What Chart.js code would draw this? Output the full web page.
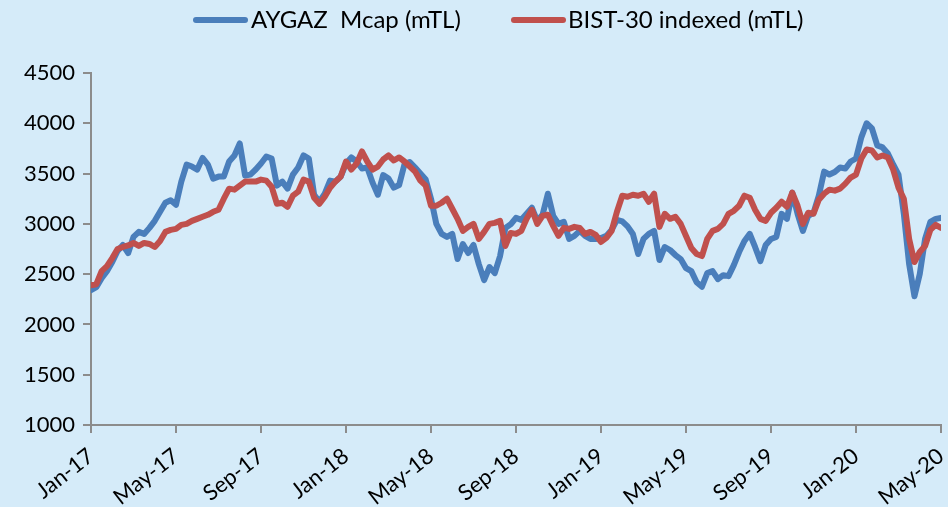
<!DOCTYPE html>
<html>
<head>
<meta charset="utf-8">
<script src="https://cdn.jsdelivr.net/npm/chart.js@4.4.1/dist/chart.umd.min.js"></script>
<style>
  html, body { margin: 0; padding: 0; background: #D5EBF9; }
  #wrap { position: relative; width: 948px; height: 507px; }
  .legend { position: absolute; top: 4px; left: 0; height: 30px; font-family: Lato, sans-serif; font-size: 24px; color: #000; white-space: pre; }
  .legend .item { position: absolute; top: 0; line-height: 30px; }
  .legend .swatch { position: absolute; top: 13px; width: 55px; height: 6px; border-radius: 3px; }
</style>
</head>
<body>
<div id="wrap">
  <canvas id="chart"></canvas>
  <div class="legend">
    <span class="swatch" style="left:193px; background:#4A7EBB"></span>
    <span class="item" style="left:251px">AYGAZ  Mcap (mTL)</span>
    <span class="swatch" style="left:511px; background:#C0504D"></span>
    <span class="item" style="left:568px">BIST-30 indexed (mTL)</span>
  </div>
</div>
<script>
// tick labels, one every 4 months (16 weeks)
const monthLabels = ['Jan-17', 'May-17', 'Sep-17', 'Jan-18', 'May-18', 'Sep-18',
                     'Jan-19', 'May-19', 'Sep-19', 'Jan-20', 'May-20'];

// weekly values, Jan-17 .. May-20
const aygazMcap = [
  2340, 2370, 2460, 2530, 2620, 2730, 2790, 2710, 2870, 2920, 2900, 2960, 3030, 3120, 3210, 3235,
  3190, 3420, 3590, 3570, 3540, 3655, 3590, 3450, 3470, 3470, 3620, 3680, 3800, 3480, 3490, 3540,
  3600, 3670, 3650, 3380, 3420, 3350, 3490, 3560, 3680, 3650, 3290, 3220, 3300, 3430, 3420, 3470,
  3600, 3660, 3620, 3550, 3560, 3410, 3290, 3485, 3450, 3360, 3386, 3590, 3615, 3560, 3500, 3440,
  3250, 3000, 2900, 2870, 2900, 2650, 2800, 2710, 2790, 2600, 2440, 2570, 2510, 2680, 2960, 2995,
  3060, 3040, 3100, 3160, 3030, 3090, 3300, 3080, 3000, 3020, 2850, 2880, 2930, 2880, 2850, 2850,
  2860, 2880, 2940, 3040, 3025, 2975, 2900, 2700, 2850, 2900, 2930, 2640, 2770, 2740, 2690, 2650,
  2560, 2530, 2420, 2375, 2510, 2530, 2450, 2490, 2480, 2590, 2720, 2830, 2900, 2770, 2630, 2790,
  2850, 2870, 3100, 3050, 3310, 3100, 2930, 3080, 3110, 3280, 3520, 3490, 3515, 3560, 3550, 3620,
  3650, 3860, 4000, 3950, 3780, 3760, 3700, 3590, 3490, 3100, 2600, 2280, 2500, 2850, 3020, 3050,
  3060
];

const bist30Indexed = [
  2390, 2400, 2530, 2580, 2660, 2750, 2770, 2785, 2810, 2780, 2810, 2800, 2770, 2830, 2920, 2940,
  2950, 2990, 3000, 3030, 3050, 3070, 3090, 3120, 3140, 3250, 3350, 3340, 3380, 3420, 3420, 3420,
  3440, 3430, 3370, 3200, 3210, 3170, 3280, 3320, 3440, 3420, 3260, 3200, 3270, 3360, 3420, 3470,
  3620, 3540, 3600, 3720, 3620, 3540, 3570, 3640, 3680, 3630, 3660, 3620, 3570, 3520, 3430, 3380,
  3180, 3180, 3210, 3250, 3150, 3050, 2930, 2970, 3000, 2850, 2920, 3000, 3010, 3030, 2780, 2910,
  2900, 2930, 3050, 3140, 3000, 3080, 3090, 2980, 2880, 2960, 2950, 2970, 2960, 2900, 2920, 2890,
  2820, 2860, 2930, 3120, 3280, 3270, 3290, 3280, 3300, 3220, 3300, 2970, 3100, 3050, 3070, 3000,
  2880, 2760, 2700, 2680, 2850, 2930, 2950, 3000, 3100, 3130, 3180, 3280, 3260, 3140, 3050, 3030,
  3110, 3160, 3220, 3170, 3310, 3180, 3000, 3110, 3100, 3240, 3300, 3340, 3330, 3350, 3400, 3460,
  3490, 3650, 3740, 3730, 3660, 3680, 3660, 3540, 3360, 3250, 2850, 2620, 2720, 2780, 2940, 2990,
  2960
];

const toPoints = arr => arr.map((v, i) => ({ x: i, y: v }));
const axisGrey = '#8C8C8C';
const tickFont = { family: 'Lato', size: 22 };

const ctx = document.getElementById('chart').getContext('2d');
const chart = new Chart(ctx, {
    type: 'line',
    data: {
        datasets: [{
            label: 'AYGAZ  Mcap (mTL)',
            data: toPoints(aygazMcap),
            borderColor: '#4A7EBB',
            borderWidth: 6,
            borderJoinStyle: 'round',
            borderCapStyle: 'round',
            pointRadius: 0,
            tension: 0,
            order: 2
        }, {
            label: 'BIST-30 indexed (mTL)',
            data: toPoints(bist30Indexed),
            borderColor: '#C0504D',
            borderWidth: 6,
            borderJoinStyle: 'round',
            borderCapStyle: 'round',
            pointRadius: 0,
            tension: 0,
            order: 1
        }]
    },
    options: {
        responsive: true,
        maintainAspectRatio: false,
        animation: false,
        layout: { padding: { top: 73, right: 7, left: 0, bottom: 0 } },
        scales: {
            x: {
                type: 'linear',
                min: 0,
                max: 160,
                afterBuildTicks: scale => {
                    scale.ticks = monthLabels.map((l, i) => ({ value: i * 16 }));
                },
                afterFit: scale => {
                    scale.height = 82;
                    scale.paddingLeft = 0;
                    scale.paddingRight = 0;
                },
                ticks: {
                    callback: (v) => monthLabels[Math.round(v / 16)],
                    color: '#000',
                    font: tickFont,
                    minRotation: 38,
                    maxRotation: 38,
                    autoSkip: false,
                    padding: 10
                },
                grid: { drawOnChartArea: false, color: axisGrey, lineWidth: 2, tickLength: 8 },
                border: { color: axisGrey, width: 2 }
            },
            y: {
                min: 1000,
                max: 4500,
                afterFit: scale => { scale.width = 91; },
                ticks: {
                    stepSize: 500,
                    callback: (v) => String(v),
                    color: '#000',
                    font: tickFont,
                    padding: 8
                },
                grid: { drawOnChartArea: false, color: axisGrey, lineWidth: 2, tickLength: 8 },
                border: { color: axisGrey, width: 2 }
            }
        },
        plugins: {
            legend: { display: false },
            tooltip: { enabled: false }
        }
    }
});
</script>
</body>
</html>
